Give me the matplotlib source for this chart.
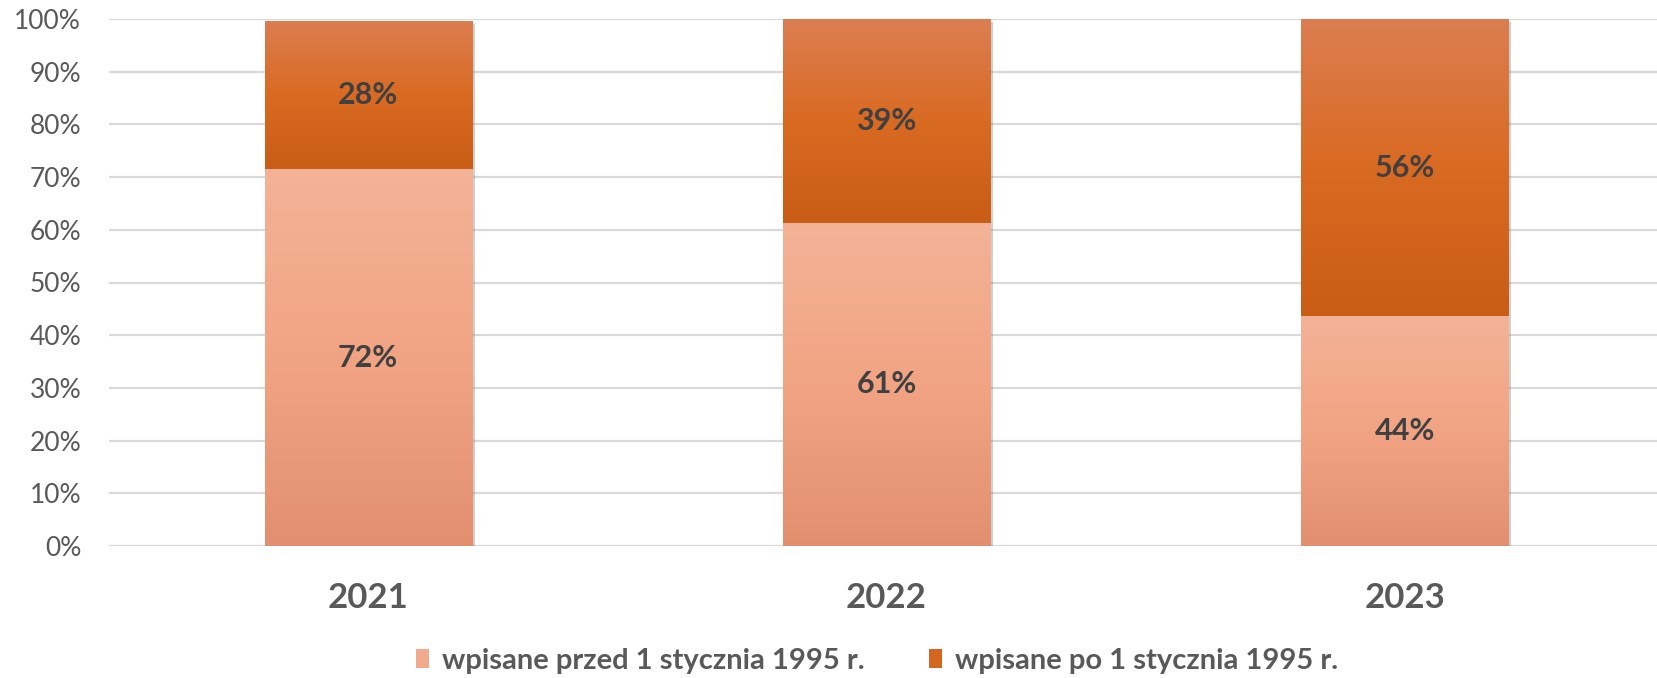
import numpy as np
import matplotlib
matplotlib.use("Agg")
import matplotlib.pyplot as plt
from matplotlib.colors import LinearSegmentedColormap
from matplotlib.patches import Patch
import matplotlib.patheffects as pe

years = ["2021", "2022", "2023"]
before_1995 = [71.5, 61.3, 43.6]
after_1995 = [28.1, 38.7, 56.4]
series_names = ["wpisane przed 1 stycznia 1995 r.", "wpisane po 1 stycznia 1995 r."]
yticks = [0, 10, 20, 30, 40, 50, 60, 70, 80, 90, 100]

# vertical gradients (top -> bottom) for each series
grad_before = ["#F4B297", "#F1A483", "#E28F70"]
grad_after = ["#DC7E52", "#D96A22", "#C95D16"]
legend_colors = ["#F2AA8C", "#D5661F"]

plt.rcParams["font.family"] = ["Lato", "DejaVu Sans"]

W, H = 1658, 678
fig = plt.figure(figsize=(W / 100, H / 100), dpi=100)
ax = fig.add_axes([109 / W, (H - 546) / H, (1664 - 109) / W, (546 - 19) / H])

x = np.arange(len(years))
width = 0.40


def gradient_bars(bars, stops):
    cmap = LinearSegmentedColormap.from_list("g", stops[::-1])
    grad = np.linspace(0, 1, 256).reshape(-1, 1)
    for b in bars:
        b.set_path_effects([pe.SimplePatchShadow(offset=(2, -2), shadow_rgbFace="#777777", alpha=0.35),
                            pe.Normal()])
        x0, y0 = b.get_x(), b.get_y()
        im = ax.imshow(grad, cmap=cmap, aspect="auto", origin="lower",
                       extent=(x0, x0 + b.get_width(), y0, y0 + b.get_height()), zorder=3)
        im.set_clip_path(b)


b1 = ax.bar(x, before_1995, width, color=grad_before[1], zorder=2, linewidth=0)
b2 = ax.bar(x, after_1995, width, bottom=before_1995, color=grad_after[1], zorder=2, linewidth=0)
gradient_bars(b1, grad_before)
gradient_bars(b2, grad_after)

for i in range(len(years)):
    ax.text(x[i], before_1995[i] / 2, f"{round(before_1995[i])}%", ha="center", va="center",
            fontsize=22, fontweight="bold", color="#404040", zorder=5)
    ax.text(x[i], before_1995[i] + after_1995[i] / 2, f"{round(after_1995[i])}%", ha="center",
            va="center", fontsize=22, fontweight="bold", color="#404040", zorder=5)

ax.set_xlim(-0.5, 2.5)
ax.set_ylim(0, 100)
ax.set_yticks(yticks)
ax.set_yticklabels([f"{t}%" for t in yticks])
ax.set_xticks(x)
ax.set_xticklabels(years, fontsize=25, fontweight="bold", color="#595959")
ax.tick_params(axis="y", length=0, pad=20, labelsize=19, labelcolor="#595959")
ax.tick_params(axis="x", length=0, pad=26)
ax.yaxis.grid(True, color="#D9D9D9", linewidth=1.6, zorder=0)
ax.set_axisbelow(True)
for s in ax.spines.values():
    s.set_visible(False)

handles = [Patch(facecolor=c, edgecolor="none") for c in legend_colors]
leg = fig.legend(handles, series_names, loc="center", bbox_to_anchor=(877 / W, 1 - 661 / H),
                 ncol=2, frameon=False, handlelength=0.45, handleheight=0.65, handletextpad=0.45,
                 columnspacing=2.2, prop={"size": 21, "weight": "bold"})
for t in leg.get_texts():
    t.set_color("#595959")

fig.savefig("out.png", dpi=100)
